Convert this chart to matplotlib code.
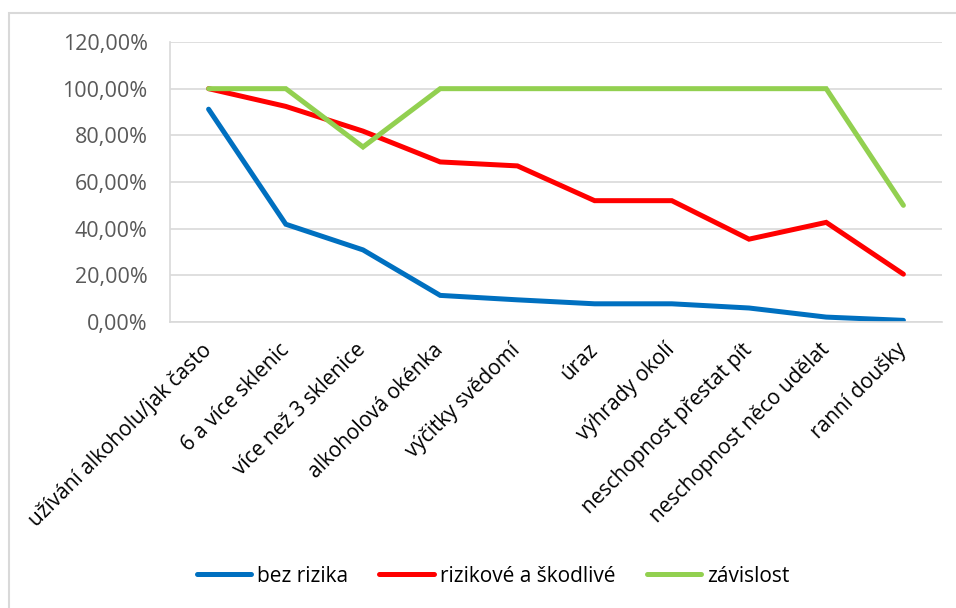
import matplotlib.pyplot as plt
from matplotlib.patches import Rectangle
from matplotlib.ticker import FuncFormatter

plt.rcParams['font.family'] = ['Open Sans', 'DejaVu Sans']

categories = ['užívání alkoholu/jak často', '6 a více sklenic', 'více než 3 sklenice',
              'alkoholová okénka', 'výčitky svědomí', 'úraz', 'výhrady okolí',
              'neschopnost přestat pít', 'neschopnost něco udělat', 'ranní doušky']

bez_rizika = [0.912, 0.419, 0.309, 0.114, 0.095, 0.078, 0.078, 0.060, 0.021, 0.007]
rizikove = [1.00, 0.924, 0.818, 0.686, 0.669, 0.520, 0.520, 0.355, 0.427, 0.205]
zavislost = [1.00, 1.00, 0.75, 1.00, 1.00, 1.00, 1.00, 1.00, 1.00, 0.50]

series = [
    ('bez rizika', bez_rizika, '#0070C0'),
    ('rizikové a škodlivé', rizikove, '#FF0000'),
    ('závislost', zavislost, '#92D050'),
]

grid_col = '#D9D9D9'

fig = plt.figure(figsize=(9.56, 6.08), dpi=100)
ax = fig.add_axes([170 / 956, 1 - 322 / 608, (942 - 170) / 956, (322 - 42) / 608])

x = range(len(categories))
for name, vals, col in series:
    ax.plot(x, vals, color=col, lw=3.6, label=name,
            solid_capstyle='round', solid_joinstyle='miter')

ax.set_xlim(-0.5, len(categories) - 0.5)
ax.set_ylim(0, 1.2)
ax.set_yticks([i * 0.2 for i in range(7)])
ax.yaxis.set_major_formatter(FuncFormatter(lambda v, _: f'{v * 100:.2f}%'.replace('.', ',')))
ax.yaxis.grid(True, color=grid_col, lw=1.2)
ax.set_axisbelow(True)

for s in ['top', 'right']:
    ax.spines[s].set_visible(False)
for s in ['left', 'bottom']:
    ax.spines[s].set_color(grid_col)
    ax.spines[s].set_linewidth(1.2)

ax.tick_params(axis='y', length=0, pad=16, labelsize=15.5, labelcolor='#595959')
ax.tick_params(axis='x', length=0, pad=18)
ax.set_xticks(list(x))
ax.set_xticklabels(categories, rotation=45, ha='right', va='center',
                   rotation_mode='anchor', fontsize=15, color='black')

fig.legend(loc='center', bbox_to_anchor=(493 / 956, 1 - 576 / 608), ncol=3,
           frameon=False, fontsize=15, handlelength=2.6, handletextpad=0.3,
           columnspacing=1.5)

# thin frame round the chart area
fig.patches.append(Rectangle((9 / 956, -0.1), 1.2, 1 - 13 / 608 + 0.1,
                             transform=fig.transFigure, fill=False,
                             edgecolor=grid_col, lw=1.5))

fig.savefig('out.png', dpi=100)
